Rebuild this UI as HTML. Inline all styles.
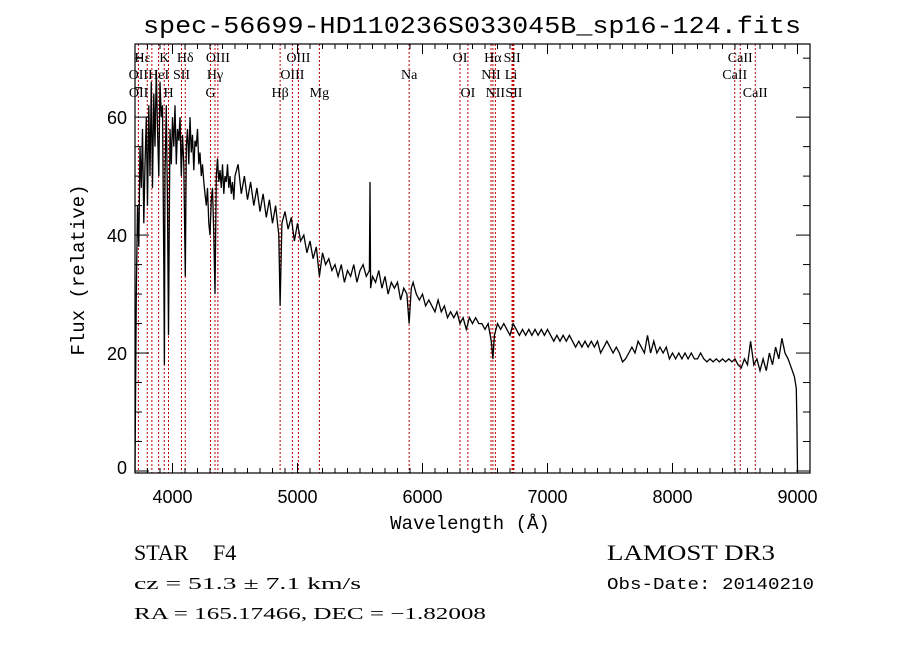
<!DOCTYPE html>
<html><head><meta charset="utf-8"><style>
html,body{margin:0;padding:0;background:#fff;}
svg{display:block;}
</style></head><body>
<svg id="chart" width="900" height="649" viewBox="0 0 900 649" xmlns="http://www.w3.org/2000/svg">
<rect width="900" height="649" fill="#fff"/>
<text x="472" y="33" font-family="Liberation Mono, monospace" font-size="24" text-anchor="middle" textLength="658" lengthAdjust="spacingAndGlyphs">spec-56699-HD110236S033045B_sp16-124.fits</text>
<g id="lines"></g>
<g id="spec"></g>
<g id="axes"></g>
<text x="470" y="529" font-family="Liberation Mono, monospace" font-size="19" text-anchor="middle">Wavelength (Å)</text>
<text transform="translate(84,270) rotate(-90)" font-family="Liberation Mono, monospace" font-size="19" text-anchor="middle">Flux (relative)</text>
<text x="134" y="560" font-family="Liberation Serif, serif" font-size="22">STAR</text>
<text x="213" y="560" font-family="Liberation Serif, serif" font-size="22">F4</text>
<text x="134" y="589" font-family="Liberation Serif, serif" font-size="17" textLength="227" lengthAdjust="spacingAndGlyphs">cz = 51.3 ± 7.1 km/s</text>
<text x="134" y="619" font-family="Liberation Serif, serif" font-size="17" textLength="352" lengthAdjust="spacingAndGlyphs">RA = 165.17466, DEC =  −1.82008</text>
<text x="607" y="560" font-family="Liberation Serif, serif" font-size="22" textLength="168" lengthAdjust="spacingAndGlyphs">LAMOST DR3</text>
<text x="607" y="589" font-family="Liberation Mono, monospace" font-size="17" textLength="207" lengthAdjust="spacingAndGlyphs">Obs-Date: 20140210</text>
</svg>
<script>
const waves = [3700,3710,3720,3730,3740,3750,3760,3770,3780,3790,3800,3810,3820,3830,3840,3850,3860,3870,3880,3890,3900,3910,3920,3930,3935,3940,3950,3960,3968,3975,3980,3990,4000,4010,4020,4030,4040,4050,4060,4070,4080,4090,4102,4110,4120,4130,4140,4150,4160,4170,4180,4190,4200,4210,4220,4230,4240,4250,4260,4270,4280,4290,4300,4310,4320,4330,4340,4350,4360,4370,4380,4390,4400,4410,4420,4430,4440,4450,4460,4470,4480,4490,4500,
4525,4550,4575,4600,4625,4650,4675,4700,4725,4750,4775,4800,4825,4850,4861,4875,4900,4925,4950,4975,5000,5025,5050,5075,5100,5125,5150,5175,5200,5225,5250,5275,5300,5325,5350,5375,5400,5425,5450,5475,5500,5525,5550,5575,5580,5585,5600,5625,5650,5675,5700,5725,5750,5775,5800,5825,5850,5875,5893,5910,5925,5950,5975,6000,6025,6050,6075,6100,6125,6150,6175,6200,6225,6250,6275,6300,6325,6350,6375,6400,6425,6450,6475,6500,6525,6550,6563,6575,6600,6625,6650,6675,6700,6725,6750,6775,6800,6825,6850,6875,6900,6925,6950,6975,7000,7025,7050,7075,7100,7125,7150,7175,7200,7225,7250,7275,7300,7325,7350,7375,7400,7425,7450,7475,7500,7525,7550,7575,7600,7625,7650,7675,7700,7725,7750,7775,7800,7825,7850,7875,7900,7925,7950,7975,8000,8025,8050,8075,8100,8125,8150,8175,8200,8225,8250,8275,8300,8325,8350,8375,8400,8425,8450,8475,8500,8525,8550,8575,8600,8625,8650,8675,8700,8725,8750,8775,8800,8825,8850,8875,8900,8925,8950,8975,8990,8995,9000];
const flux = [0,30,45,38,55,48,58,42,52,60,45,62,50,66,48,64,55,68,58,50,66,60,62,35,18,50,62,45,23,45,58,52,60,55,62,52,58,56,60,50,57,52,33,55,58,52,60,54,57,51,56,55,58,52,54,50,52,49,47,45,48,42,40,46,48,40,30,50,53,49,51,48,52,47,50,49,52,48,50,47,49,46,50,
52,47,50,46,49,45,48,44,47,43,46,42,45,40,28,42,44,41,43,39,42,39,40,37,39,36,38,33,37,35,36,34,35,33,35,32,34,33,35,32,34,35,33,34,49,31,33,32,34,31,33,30,32,31,32,29,31,30,25,31,32,30,29,30,28,29,28,27,29,27,28,26,27,26,27,25,26,24,26,25,26,25,25,24,25,22,19,23,25,24,25,24,23,25,24,23,24,23,24,23,24,23,24,23,24,23,22,23,22,23,22,23,22,21,22,21,22,21,22,21,22,20,21,22,21,20,21,20,18.5,19,20,21,20,22,21,20,23,20,22,20,21,20,21,19,20,19,20,19,20,19,20,19,19,20,19,18.5,19,18.5,19,18.5,19,18.5,19,18.5,19,18,17.5,19,18,22,18,19,17,19,17,20,18,21,19,22.5,20,19,17.5,16,14,8,0];
const lineWaves = [3727,3798,3835,3889,3934,3968,4072,4102,4304,4340,4363,4861,4959,5007,5175,5893,6300,6363,6548,6563,6583,6716,6724,6731,8498,8542,8662];
const labelText = ["Hε","K","Hδ","OIII","OIII","OI","Hα","SII","CaII","OII","HeI","SII","Hγ","OIII","Na","NII","Li","CaII","OII","H","G","Hβ","Mg","OI","NII","SII","CaII"];
const labelWave = [3760,3934,4102,4363,5007,6300,6563,6717,8542,3727,3889,4072,4340,4959,5893,6548,6708,8498,3729,3968,4304,4861,5175,6363,6583,6731,8662];
const labelRow = [0,0,0,0,0,0,0,0,0,1,1,1,1,1,1,1,1,1,2,2,2,2,2,2,2,2,2];
const xTicks = [4000,5000,6000,7000,8000,9000];
const yTicks = [0,20,40,60];

const NS="http://www.w3.org/2000/svg";
const L=135,R=810,T=44,B=473;
const xMin=3700,xMax=9100,yTop=72.4,yBot=-0.34;
const xs=w=>L+(w-xMin)/(xMax-xMin)*(R-L);
const ys=v=>B-(v-yBot)/(yTop-yBot)*(B-T);
function mk(tag,parent,attrs){const e=document.createElementNS(NS,tag);for(const k in attrs)e.setAttribute(k,attrs[k]);parent.appendChild(e);return e;}

const gl=document.getElementById('lines');
lineWaves.forEach(w=>{
  const l=mk('line',gl,{x1:xs(w),x2:xs(w),y1:T,y2:B,stroke:'#c00000','stroke-width':1,'stroke-dasharray':'2,2'});
  
  
});
const rowY=[62,79,97];
labelText.forEach((t,i)=>{
  const e=mk('text',gl,{x:xs(labelWave[i]),y:rowY[labelRow[i]],'font-family':'Liberation Serif, serif','font-size':14,'text-anchor':'middle'});
  e.textContent=t;
  
  
});

const gs=document.getElementById('spec');
const pts=waves.map((w,i)=>xs(w).toFixed(1)+','+ys(flux[i]).toFixed(1)).join(' ');
const pl=mk('polyline',gs,{points:pts,fill:'none',stroke:'#000','stroke-width':1.3,'stroke-linejoin':'miter'});



const ga=document.getElementById('axes');
const fr=mk('rect',ga,{x:L,y:T,width:R-L,height:B-T,fill:'none',stroke:'#000','stroke-width':1.2});


for(let w=3700;w<=9100;w+=100){
  const maj=(w%1000===0),len=maj?10:5,x=xs(w);
  mk('line',ga,{x1:x,x2:x,y1:B,y2:B-len,stroke:'#000'});
  mk('line',ga,{x1:x,x2:x,y1:T,y2:T+len,stroke:'#000'});
}
for(let v=0;v<=70;v+=5){
  const maj=(v%20===0),len=maj?14:7,y=ys(v);
  mk('line',ga,{x1:L,x2:L+len,y1:y,y2:y,stroke:'#000'});
  mk('line',ga,{x1:R,x2:R-len,y1:y,y2:y,stroke:'#000'});
}
xTicks.forEach(w=>{
  const e=mk('text',ga,{x:xs(w),y:503,'font-family':'Liberation Sans, sans-serif','font-size':18,'text-anchor':'middle'});
  e.textContent=w;
  
  
});
yTicks.forEach(v=>{
  const e=mk('text',ga,{x:127,y:Math.min(ys(v)+7,474),'font-family':'Liberation Sans, sans-serif','font-size':18,'text-anchor':'end'});
  e.textContent=v;
  
  
});
</script>
</body></html>
